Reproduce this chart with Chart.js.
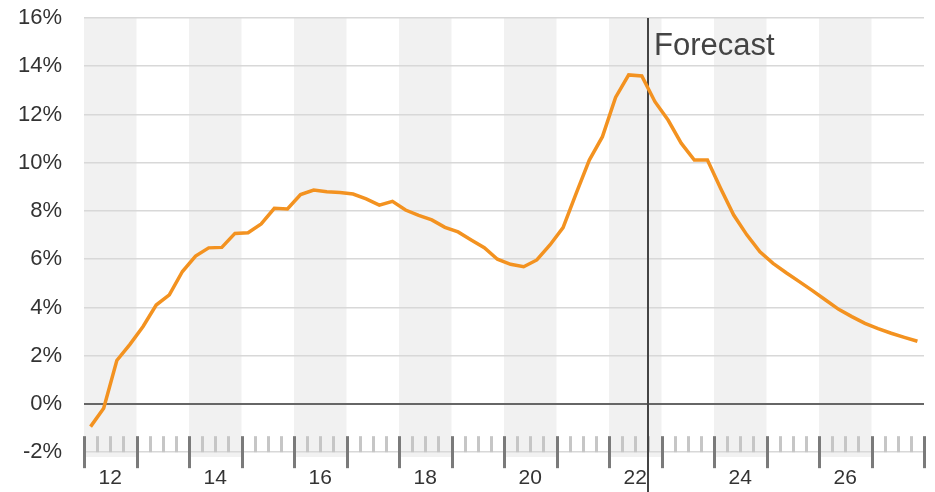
<!DOCTYPE html>
<html>
<head>
<meta charset="utf-8">
<script src="https://cdn.jsdelivr.net/npm/chart.js@4.4.1/dist/chart.umd.min.js"></script>
<style>
  html, body { margin: 0; padding: 0; background: #fff; }
  #wrap { width: 935px; height: 492px; position: relative; }
</style>
</head>
<body>
<div id="wrap"><canvas id="chart"></canvas></div>
<script>
// quarterly growth, 2012 Q1 .. 2027 Q4 (forecast from 2022 Q4)
const startYear = 2012;
const growthPct = [
  -0.94, -0.18, 1.80, 2.47, 3.21, 4.10, 4.52, 5.49,
  6.13, 6.47, 6.49, 7.07, 7.10, 7.46, 8.11, 8.08,
  8.68, 8.87, 8.80, 8.77, 8.70, 8.50, 8.24, 8.40,
  8.04, 7.82, 7.63, 7.32, 7.13, 6.80, 6.48, 6.00,
  5.79, 5.69, 5.97, 6.59, 7.31, 8.73, 10.11, 11.08,
  12.71, 13.64, 13.60, 12.53, 11.77, 10.81, 10.11, 10.11,
  8.94, 7.83, 7.01, 6.31, 5.83, 5.44, 5.07, 4.70,
  4.31, 3.92, 3.62, 3.34, 3.12, 2.93, 2.76, 2.60,
];
const years = [2012, 2013, 2014, 2015, 2016, 2017, 2018, 2019, 2020, 2021, 2022, 2023, 2024, 2025, 2026, 2027];
const yearLabels = ['12', '', '14', '', '16', '', '18', '', '20', '', '22', '', '24', '', '26', ''];
const shadedYears = [2012, 2014, 2016, 2018, 2020, 2022, 2024, 2026];
const yTicks = [-2, 0, 2, 4, 6, 8, 10, 12, 14, 16];
const forecastStart = 2022.75;
const forecastLabel = 'Forecast';

const points = growthPct.map((v, i) => ({ x: startYear + (i + 0.5) / 4, y: v }));

const FONT = "'Liberation Sans', Arial, Helvetica, sans-serif";

const decor = {
  id: 'decor',
  beforeDraw(chart) {
    const { ctx, chartArea, scales: { x } } = chart;
    ctx.save();
    ctx.fillStyle = '#f1f1f1';
    shadedYears.forEach((yr) => {
      const x0 = x.getPixelForValue(yr);
      const x1 = x.getPixelForValue(yr + 1);
      ctx.fillRect(x0, chartArea.top, x1 - x0, chartArea.bottom - chartArea.top);
    });
    ctx.restore();
  },
  beforeDatasetsDraw(chart) {
    const { ctx, scales: { x, y } } = chart;
    const base = y.getPixelForValue(-2);
    ctx.save();
    ctx.lineWidth = 3;
    const first = years[0];
    const last = years[years.length - 1] + 1;
    for (let q = 0; q <= (last - first) * 4; q++) {
      const px = Math.round(x.getPixelForValue(first + q / 4)) + 0.5;
      const major = q % 4 === 0;
      ctx.strokeStyle = major ? '#7a7a7a' : '#c6c6c6';
      ctx.beginPath();
      ctx.moveTo(px, base - 16);
      ctx.lineTo(px, major ? base + 16 : base);
      ctx.stroke();
    }
    // forecast marker
    const fx = Math.round(x.getPixelForValue(forecastStart));
    ctx.strokeStyle = '#444';
    ctx.lineWidth = 2;
    ctx.beginPath();
    ctx.moveTo(fx, chart.chartArea.top);
    ctx.lineTo(fx, chart.height);
    ctx.stroke();
    ctx.fillStyle = '#444';
    ctx.font = '31px ' + FONT;
    ctx.textBaseline = 'alphabetic';
    ctx.fillText(forecastLabel, fx + 6, 55);
    ctx.restore();
  },
};

new Chart(document.getElementById('chart'), {
  type: 'line',
  data: {
    datasets: [{
      label: 'Growth',
      data: points,
      borderColor: '#f39220',
      borderWidth: 3.5,
      pointRadius: 0,
      tension: 0,
      fill: false,
    }],
  },
  options: {
    responsive: true,
    maintainAspectRatio: false,
    animation: false,
    layout: { padding: { top: 18, right: 11, left: 0, bottom: 0 } },
    plugins: { legend: { display: false }, tooltip: { enabled: false } },
    scales: {
      x: {
        type: 'linear',
        min: 2012,
        max: 2028,
        grid: { display: false, drawTicks: false },
        border: { display: false },
        afterBuildTicks: (s) => { s.ticks = years.map((yr) => ({ value: yr + 0.5 })); },
        afterFit: (s) => { s.height = 35; s.paddingLeft = 0; s.paddingRight = 0; },
        ticks: {
          autoSkip: false,
          maxRotation: 0,
          padding: 9,
          color: '#333',
          font: { family: FONT, size: 21 },
          callback: (v) => yearLabels[years.indexOf(Math.floor(v))] ?? '',
        },
      },
      y: {
        min: -2.2,
        max: 16,
        afterBuildTicks: (s) => { s.ticks = yTicks.map((v) => ({ value: v })); },
        afterFit: (s) => { s.width = 84; s.paddingTop = 0; s.paddingBottom = 0; },
        grid: {
          drawTicks: false,
          color: (c) => (c.tick && c.tick.value === 0 ? '#666' : '#d8d8d8'),
          lineWidth: (c) => (c.tick && c.tick.value === 0 ? 2 : 1.5),
        },
        border: { display: false },
        ticks: {
          autoSkip: false,
          padding: 22,
          color: '#333',
          font: { family: FONT, size: 22 },
          callback: (v) => v + '%',
        },
      },
    },
  },
  plugins: [decor],
});
</script>
</body>
</html>
